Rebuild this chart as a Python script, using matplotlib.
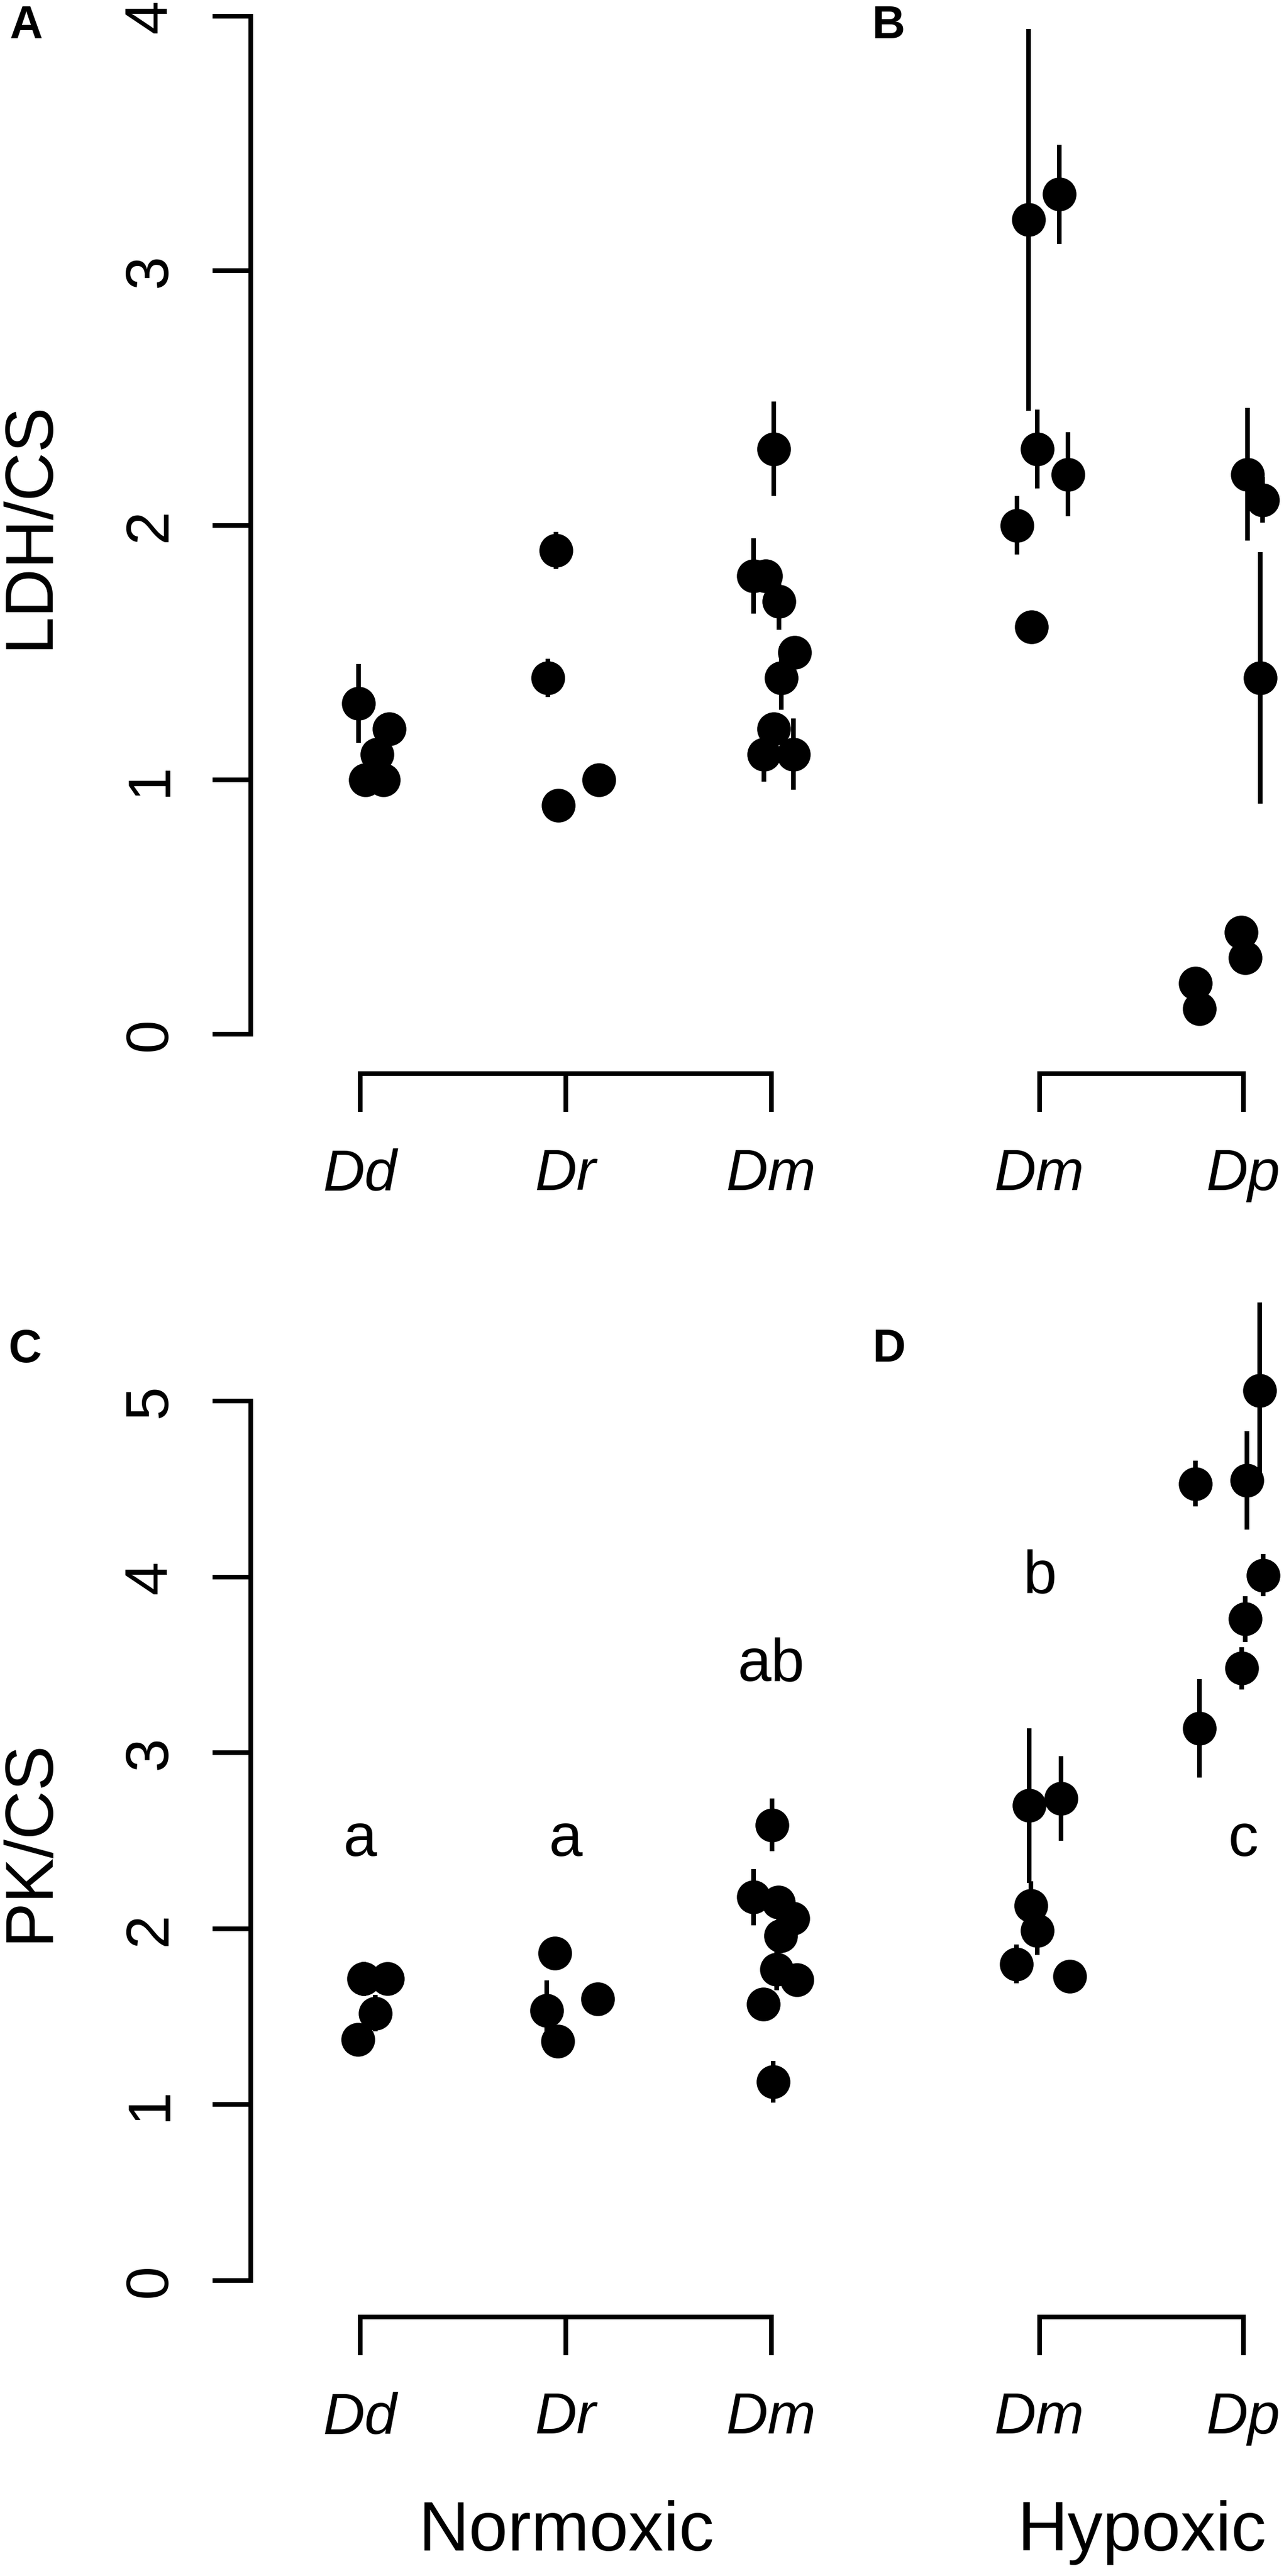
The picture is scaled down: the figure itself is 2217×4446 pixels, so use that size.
import matplotlib
matplotlib.use("Agg")
import matplotlib.pyplot as plt
import matplotlib.transforms as mtransforms

plt.rcParams["font.family"] = ["Liberation Sans", "DejaVu Sans"]

# ---- data ----
norm_labels = ["Dd", "Dr", "Dm"]
hyp_labels = ["Dm", "Dp"]

# LDH/CS, normoxic (panel A)
ldh_norm_group = [1, 1, 1, 1, 1, 2, 2, 2, 2, 3, 3, 3, 3, 3, 3, 3, 3, 3]
ldh_norm_jit = [-0.008, 0.140, 0.081, 0.025, 0.114,
                -0.048, -0.086, -0.036, 0.160,
                0.010, -0.086, -0.028, 0.036, 0.112, 0.048, 0.010, -0.036, 0.106]
ldh_norm_val = [1.30, 1.20, 1.10, 1.00, 1.00,
                1.90, 1.40, 0.90, 1.00,
                2.30, 1.80, 1.80, 1.70, 1.50, 1.40, 1.20, 1.10, 1.10]
ldh_norm_err = [0.155, 0, 0, 0, 0,
                0.073, 0.076, 0, 0,
                0.185, 0.148, 0, 0.11, 0, 0.125, 0, 0.108, 0.14]

# LDH/CS, hypoxic (panel B)
ldh_hyp_group = [1, 1, 1, 1, 1, 1, 2, 2, 2, 2, 2, 2, 2]
ldh_hyp_jit = [-0.054, 0.098, -0.010, 0.140, -0.110, -0.040,
               0.020, 0.094, 0.082, -0.010, 0.008, -0.236, -0.215]
ldh_hyp_val = [3.20, 3.30, 2.30, 2.20, 2.00, 1.60,
               2.20, 2.10, 1.40, 0.40, 0.30, 0.20, 0.10]
ldh_hyp_err = [0.75, 0.195, 0.155, 0.165, 0.115, 0.063,
               0.26, 0.09, 0.495, 0, 0, 0, 0]

# PK/CS, normoxic (panel C)
pk_norm_group = [1, 1, 1, 1, 2, 2, 2, 2, 3, 3, 3, 3, 3, 3, 3, 3, 3]
pk_norm_jit = [0.018, 0.132, 0.074, -0.012,
               -0.054, -0.092, -0.040, 0.156,
               0.004, -0.086, 0.034, 0.104, 0.044, 0.024, 0.124, -0.040, 0.008]
pk_norm_val = [1.715, 1.715, 1.52, 1.37,
               1.86, 1.535, 1.36, 1.60,
               2.59, 2.18, 2.15, 2.06, 1.96, 1.77, 1.71, 1.57, 1.13]
pk_norm_err = [0.098, 0, 0.104, 0,
               0.06, 0.17, 0, 0.06,
               0.15, 0.16, 0, 0, 0.10, 0.12, 0, 0, 0.12]

# PK/CS, hypoxic (panel D)
pk_hyp_group = [1, 1, 1, 1, 1, 1, 2, 2, 2, 2, 2, 2, 2]
pk_hyp_jit = [-0.050, 0.106, -0.042, -0.012, -0.115, 0.148,
              0.079, -0.235, 0.016, 0.096, 0.009, -0.009, -0.215]
pk_hyp_val = [2.70, 2.74, 2.13, 1.99, 1.80, 1.73,
              5.06, 4.53, 4.55, 4.01, 3.76, 3.48, 3.14]
pk_hyp_err = [0.44, 0.24, 0.14, 0.14, 0.11, 0,
              0.50, 0.13, 0.28, 0.12, 0.13, 0.12, 0.28]

# significance letters (panels C and D)
sig_norm_letters = ["a", "a", "ab"]
sig_norm_y = [2.5, 2.5, 3.5]
sig_hyp_letters = ["b", "c"]
sig_hyp_y = [4.0, 2.5]

# ---- layout (pixels of a 2217 x 4446 canvas) ----
W, H = 2217, 4446
DPI = 300
LW = 1.92
fig = plt.figure(figsize=(W / DPI, H / DPI), dpi=DPI)


def px_axes(left, right, top, bottom):
    return fig.add_axes([left / W, 1 - bottom / H, (right - left) / W, (bottom - top) / H])


def style_axes(ax, groups, labels, show_y, ymax, drop):
    for side in ["top", "right", "left", "bottom"]:
        ax.spines[side].set_visible(False)
    ax.spines["bottom"].set_visible(True)
    ax.spines["bottom"].set_position(("outward", drop))
    ax.spines["bottom"].set_bounds(groups[0], groups[-1])
    ax.spines["bottom"].set_linewidth(LW)
    ax.spines["bottom"].set_capstyle("projecting")
    ax.set_xticks(groups)
    ax.set_xticklabels(labels, fontstyle="italic", fontsize=24)
    ax.tick_params(axis="x", direction="out", length=15.8, width=LW, pad=15)
    ax.set_ylim(0, ymax)
    if show_y:
        ax.spines["left"].set_visible(True)
        ax.spines["left"].set_bounds(0, ymax)
        ax.spines["left"].set_linewidth(LW)
        ax.spines["left"].set_capstyle("projecting")
        ax.set_yticks(range(0, ymax + 1))
        ax.tick_params(axis="y", direction="out", length=15.8, width=LW,
                       pad=14, labelsize=25, labelrotation=90)
        plt.setp(ax.get_yticklabels(), va="center")
    else:
        ax.set_yticks([])
    ax.patch.set_visible(False)


def draw_points(ax, group, jit, val, err):
    xs = [g + j for g, j in zip(group, jit)]
    ax.errorbar(xs, val, yerr=err, fmt="o", color="black", ms=13,
                elinewidth=LW, capsize=0, clip_on=False, zorder=3)


norm_pos = [1, 2, 3]
hyp_pos = [1, 2]

# top row: y=4 at px 28, y=0 at px 1785
axA = px_axes(433, 1460, 28, 1785)
axA.set_xlim(1 - (622 - 433) / 355, 3 + (1460 - 1332) / 355)
axB = px_axes(1480, 2217, 28, 1785)
axB.set_xlim(1 - (1795 - 1480) / 352, 2 + (2217 - 2147) / 352)

# bottom row: y=5 at px 2418, y=0 at px 3936
axC = px_axes(433, 1460, 2418, 3936)
axC.set_xlim(1 - (622 - 433) / 355, 3 + (1460 - 1332) / 355)
axD = px_axes(1480, 2217, 2418, 3936)
axD.set_xlim(1 - (1795 - 1480) / 352, 2 + (2217 - 2147) / 352)

style_axes(axA, norm_pos, norm_labels, True, 4, 16.3)
style_axes(axB, hyp_pos, hyp_labels, False, 4, 16.3)
style_axes(axC, norm_pos, norm_labels, True, 5, 15.1)
style_axes(axD, hyp_pos, hyp_labels, False, 5, 15.1)

draw_points(axA, ldh_norm_group, ldh_norm_jit, ldh_norm_val, ldh_norm_err)
draw_points(axB, ldh_hyp_group, ldh_hyp_jit, ldh_hyp_val, ldh_hyp_err)
draw_points(axC, pk_norm_group, pk_norm_jit, pk_norm_val, pk_norm_err)
draw_points(axD, pk_hyp_group, pk_hyp_jit, pk_hyp_val, pk_hyp_err)

for x, lab, y in zip(norm_pos, sig_norm_letters, sig_norm_y):
    axC.text(x, y, lab, ha="center", va="center", fontsize=25)
for x, lab, y in zip(hyp_pos, sig_hyp_letters, sig_hyp_y):
    axD.text(x, y, lab, ha="center", va="center", fontsize=25)

# y-axis titles
fig.text(52 / W, 1 - 906 / H, "LDH/CS", rotation=90, ha="center", va="center", fontsize=28)
fig.text(52 / W, 1 - 3177 / H, "PK/CS", rotation=90, ha="center", va="center", fontsize=28)

# panel letters
for lab, px, py in [("A", 45, 45), ("B", 1534, 45), ("C", 43, 2330), ("D", 1535, 2330)]:
    fig.text(px / W, 1 - py / H, lab, ha="center", va="center",
             fontsize=19, fontweight="bold")

# condition labels under the bottom row
trC = mtransforms.blended_transform_factory(axC.transData, fig.transFigure)
trD = mtransforms.blended_transform_factory(axD.transData, fig.transFigure)
axC.text(2, 1 - 4371 / H, "Normoxic", transform=trC, ha="center", va="center", fontsize=29)
axD.text(1.5, 1 - 4371 / H, "Hypoxic", transform=trD, ha="center", va="center", fontsize=29)

fig.savefig("out.png", dpi=DPI, facecolor="white")
